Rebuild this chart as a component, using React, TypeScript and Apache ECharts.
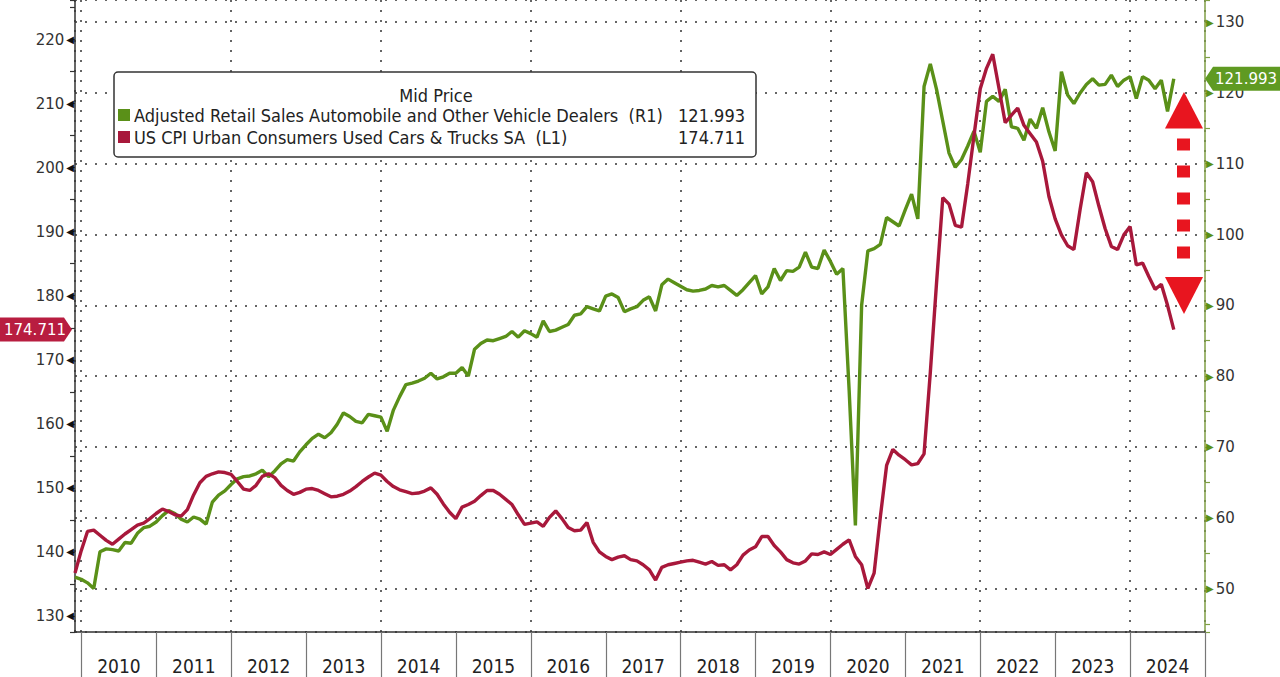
import React, { useEffect, useRef } from "react";
import * as echarts from "echarts";

// Monthly observations, first one at the end of Nov 2009
const firstMonthYear = 2010 - 1 / 12;
const years = ["2010", "2011", "2012", "2013", "2014", "2015", "2016", "2017", "2018", "2019", "2020", "2021", "2022", "2023", "2024"];

// US CPI Urban Consumers Used Cars & Trucks SA (L1)
const usedCarsCPI: number[] = [
  136.7, 140.2, 143.2, 143.4, 142.6, 141.8, 141.2, 142.0, 142.8, 143.5, 144.2,
  144.5, 145.2, 146.0, 146.7, 146.3, 145.8, 145.6, 146.6, 148.9, 150.8,
  151.8, 152.2, 152.5, 152.4, 152.1, 151.0, 149.8, 149.6, 150.4, 151.8,
  152.2, 151.6, 150.4, 149.6, 149.0, 149.3, 149.8, 149.9, 149.6, 149.1,
  148.6, 148.7, 149.0, 149.5, 150.2, 151.0, 151.7, 152.3, 152.0, 151.0,
  150.2, 149.7, 149.4, 149.1, 149.2, 149.5, 150.0, 149.0, 147.5, 146.2,
  145.2, 147.0, 147.4, 147.9, 148.8, 149.6, 149.6, 149.0, 148.2, 147.4,
  145.8, 144.3, 144.5, 144.7, 144.0, 145.4, 146.4, 145.2, 143.8, 143.3,
  143.4, 144.6, 141.5, 140.0, 139.3, 138.8, 139.2, 139.4, 138.8, 138.6,
  138.0, 137.2, 135.6, 137.6, 138.0, 138.2, 138.4, 138.6, 138.7, 138.4,
  138.1, 138.5, 137.9, 138.0, 137.2, 138.0, 139.5, 140.3, 140.8, 142.4,
  142.4, 141.0, 140.0, 138.8, 138.3, 138.1, 138.6, 139.7, 139.6, 140.0,
  139.6, 140.4, 141.2, 141.9, 139.3, 138.0, 134.3, 136.7, 145.5, 153.5,
  156.0, 155.1, 154.4, 153.6, 153.8, 155.3, 168.0, 182.0, 195.3, 194.3,
  191.0, 190.7, 197.5, 205.0, 212.3, 215.5, 217.7, 212.4, 207.0, 208.2,
  209.3, 206.6, 205.3, 204.0, 201.0, 195.5, 192.0, 189.5, 187.8, 187.2,
  193.5, 199.2, 197.8, 194.0, 190.5, 187.7, 187.2, 189.5, 190.8, 184.8,
  185.1, 183.0, 181.0, 181.8, 178.5, 174.711,
];

// Adjusted Retail Sales Automobile and Other Vehicle Dealers (R1)
const autoDealerSales: number[] = [
  51.6, 51.3, 50.8, 50.0, 55.2, 55.6, 55.5, 55.3, 56.5, 56.4, 57.8,
  58.6, 58.8, 59.4, 60.3, 61.0, 60.6, 59.8, 59.4, 60.1, 59.8,
  59.1, 62.2, 63.2, 63.8, 64.7, 65.5, 65.8, 65.9, 66.2, 66.7,
  65.8, 66.6, 67.6, 68.2, 68.0, 69.3, 70.3, 71.2, 71.8, 71.3,
  72.0, 73.2, 74.8, 74.3, 73.6, 73.4, 74.6, 74.4, 74.2, 72.2,
  75.2, 77.1, 78.8, 79.0, 79.3, 79.7, 80.4, 79.6, 79.9, 80.4,
  80.4, 81.2, 80.0, 83.8, 84.6, 85.1, 85.0, 85.3, 85.6, 86.3,
  85.5, 86.4, 86.0, 85.5, 87.8, 86.3, 86.5, 86.9, 87.3, 88.6,
  88.8, 89.8, 89.5, 89.2, 91.3, 91.6, 91.1, 89.1, 89.5, 89.8,
  90.7, 91.2, 89.2, 92.9, 93.7, 93.2, 92.7, 92.2, 92.0, 92.1,
  92.3, 92.8, 92.6, 92.8, 92.1, 91.4, 92.2, 93.2, 94.2, 91.6,
  92.6, 95.2, 93.5, 94.9, 94.8, 95.4, 97.5, 95.4, 95.2, 97.8,
  96.2, 94.4, 95.2, 78.0, 58.9, 90.0, 97.7, 98.0, 98.6, 102.4,
  101.8, 101.2, 103.5, 105.7, 102.2, 120.9, 124.1, 120.5, 116.0, 111.5,
  109.5, 110.6, 112.5, 114.6, 111.6, 118.8, 119.5, 118.8, 120.5, 115.2,
  115.0, 113.3, 116.3, 115.0, 117.9, 114.5, 111.8, 123.0, 119.7, 118.5,
  120.0, 121.2, 122.0, 121.1, 121.2, 122.5, 120.9, 121.8, 122.3, 119.2,
  122.3, 121.8, 120.6, 121.8, 117.4, 121.993,
];

const legendTitle = "Mid Price";
const greenName = "Adjusted Retail Sales Automobile and Other Vehicle Dealers  (R1)";
const redName = "US CPI Urban Consumers Used Cars & Trucks SA  (L1)";

const GREEN = "#5a9018";
const GREEN_AXIS = "#7f9e45";
const RED = "#a8183b";
const TAG_RED = "#b81d40";
const TAG_GREEN = "#5f9a22";
const ARROW_RED = "#e8151f";
const NARROW = "'Liberation Sans Narrow', 'Arial Narrow', 'DejaVu Sans Condensed', sans-serif";
const AXISFONT = "'DejaVu Sans', Verdana, sans-serif";

export default function App() {
  const ref = useRef<HTMLDivElement>(null);

  useEffect(() => {
    const chart = echarts.init(ref.current!, null, { renderer: "svg" });
    const toX = (i: number) => firstMonthYear + i / 12;
    const redData = usedCarsCPI.map((v, i) => [toX(i), v]);
    const greenData = autoDealerSales.map((v, i) => [toX(i), v]);
    const isTen = (v: number) => Math.abs(v - Math.round(v / 10) * 10) < 1e-6;
    const dotted = { color: "#666", type: [2, 8] as number[], width: 2 };

    const option: any = {
      animation: false,
      backgroundColor: "#ffffff",
      grid: [
        { left: 75, right: 75, top: 0, bottom: 45 },
        { left: 81.5, right: 75, top: 0, bottom: 45 },
      ],
      xAxis: [
        {
          type: "value",
          gridIndex: 0,
          min: firstMonthYear,
          max: 2025,
          splitNumber: 7,
          axisLine: { show: true, onZero: false, lineStyle: { color: "#333", width: 1.5 } },
          axisTick: { show: false },
          axisLabel: { show: false },
          splitLine: { show: true, lineStyle: dotted },
        },
        {
          type: "category",
          gridIndex: 1,
          data: years,
          boundaryGap: true,
          position: "bottom",
          axisLine: { show: false },
          axisTick: { show: true, interval: 0, length: 45, lineStyle: { color: "#777", width: 1.2 } },
          axisLabel: { interval: 0, margin: 24, fontFamily: NARROW, fontSize: 19, color: "#222" },
          splitLine: { show: false },
        },
      ],
      yAxis: [
        {
          type: "value",
          gridIndex: 0,
          position: "left",
          min: 127.5,
          max: 226.17,
          splitNumber: 20,
          axisLine: { show: true, lineStyle: { color: "#333", width: 1.5 } },
          axisTick: { show: true, length: 5, lineStyle: { color: "#333", width: 1.2 } },
          splitLine: { show: false },
          axisLabel: {
            margin: 1,
            formatter: (v: number) => (isTen(v) ? `{n|${Math.round(v)}}{a|◀}` : ""),
            rich: {
              n: { fontFamily: AXISFONT, fontSize: 15, color: "#333" },
              a: { fontFamily: AXISFONT, fontSize: 10, color: "#111", padding: [0, 0, 0, 2] },
            },
          },
        },
        {
          type: "value",
          gridIndex: 0,
          position: "right",
          min: 43.86,
          max: 133.12,
          splitNumber: 18,
          axisLine: { show: true, lineStyle: { color: GREEN_AXIS, width: 1.5 } },
          axisTick: { show: true, length: 5, lineStyle: { color: GREEN_AXIS, width: 1.2 } },
          splitLine: { show: false },
          axisLabel: {
            margin: 1,
            formatter: (v: number) => (isTen(v) ? `{a|▶}{n|${Math.round(v)}}` : ""),
            rich: {
              n: { fontFamily: AXISFONT, fontSize: 15, color: "#333" },
              a: { fontFamily: AXISFONT, fontSize: 10, color: GREEN, padding: [0, 2, 0, 0] },
            },
          },
        },
        {
          type: "value",
          gridIndex: 0,
          position: "right",
          min: 43.86,
          max: 133.12,
          splitNumber: 9,
          axisLine: { show: false },
          axisTick: { show: false },
          axisLabel: { show: false },
          splitLine: { show: true, lineStyle: dotted },
        },
        { type: "value", gridIndex: 1, show: false },
      ],
      series: [
        {
          type: "line",
          name: greenName,
          xAxisIndex: 0,
          yAxisIndex: 1,
          data: greenData,
          showSymbol: false,
          symbol: "none",
          lineStyle: { color: GREEN, width: 3.4 },
          itemStyle: { color: GREEN },
          z: 3,
        },
        {
          type: "line",
          name: redName,
          xAxisIndex: 0,
          yAxisIndex: 0,
          data: redData,
          showSymbol: false,
          symbol: "none",
          lineStyle: { color: RED, width: 3.4 },
          itemStyle: { color: RED },
          z: 4,
        },
      ],
    };
    chart.setOption(option);

    const lastRed = usedCarsCPI[usedCarsCPI.length - 1];
    const lastGreen = autoDealerSales[autoDealerSales.length - 1];
    const yL = chart.convertToPixel({ yAxisIndex: 0 } as any, lastRed) as unknown as number;
    const yR = chart.convertToPixel({ yAxisIndex: 1 } as any, lastGreen) as unknown as number;

    const txt = (x: number, y: number, text: string, font: string, fill: string, align: string) => ({
      type: "text",
      x,
      y,
      z: 102,
      style: { text, font, fill, align, textAlign: align, verticalAlign: "middle", textVerticalAlign: "middle" },
    });

    const legendFont = `18px ${NARROW}`;
    const elements: any[] = [
      // legend box
      {
        type: "rect",
        z: 100,
        shape: { x: 114, y: 72, width: 642, height: 85, r: 4 },
        style: { fill: "#fff", stroke: "#333", lineWidth: 1.5 },
      },
      txt(436, 95, legendTitle, legendFont, "#222", "center"),
      { type: "rect", z: 101, shape: { x: 118, y: 109, width: 12, height: 12 }, style: { fill: GREEN } },
      txt(134, 115, greenName, legendFont, "#222", "left"),
      txt(745, 115, lastGreen.toFixed(3), legendFont, "#222", "right"),
      { type: "rect", z: 101, shape: { x: 118, y: 131, width: 12, height: 12 }, style: { fill: RED } },
      txt(134, 137, redName, legendFont, "#222", "left"),
      txt(745, 137, lastRed.toFixed(3), legendFont, "#222", "right"),
      // value tags
      {
        type: "polygon",
        z: 100,
        shape: { points: [[0, yL - 12], [64, yL - 12], [72, yL], [64, yL + 12], [0, yL + 12]] },
        style: { fill: TAG_RED },
      },
      txt(35, yL, lastRed.toFixed(3), `15px ${AXISFONT}`, "#fff", "center"),
      {
        type: "polygon",
        z: 100,
        shape: { points: [[1205, yR], [1213, yR - 12], [1280, yR - 12], [1280, yR + 12], [1213, yR + 12]] },
        style: { fill: TAG_GREEN },
      },
      txt(1215, yR, lastGreen.toFixed(3), `15px ${AXISFONT}`, "#fff", "left"),
      // red dashed double arrow
      { type: "polygon", z: 100, shape: { points: [[1165, 128.5], [1203, 128.5], [1184, 92]] }, style: { fill: ARROW_RED } },
      { type: "rect", z: 100, shape: { x: 1177, y: 138.5, width: 13, height: 12 }, style: { fill: ARROW_RED } },
      { type: "rect", z: 100, shape: { x: 1177, y: 165.5, width: 13, height: 12 }, style: { fill: ARROW_RED } },
      { type: "rect", z: 100, shape: { x: 1177, y: 192.5, width: 13, height: 12 }, style: { fill: ARROW_RED } },
      { type: "rect", z: 100, shape: { x: 1177, y: 219.5, width: 13, height: 12 }, style: { fill: ARROW_RED } },
      { type: "rect", z: 100, shape: { x: 1177, y: 246.5, width: 13, height: 12 }, style: { fill: ARROW_RED } },
      { type: "polygon", z: 100, shape: { points: [[1165, 277], [1203, 277], [1184, 314]] }, style: { fill: ARROW_RED } },
    ];
    chart.setOption({ graphic: { elements } });

    return () => chart.dispose();
  }, []);

  return (
    <div
      ref={ref}
      style={{ position: "fixed", left: 0, top: 0, width: 1280, height: 677, background: "#fff" }}
    />
  );
}
